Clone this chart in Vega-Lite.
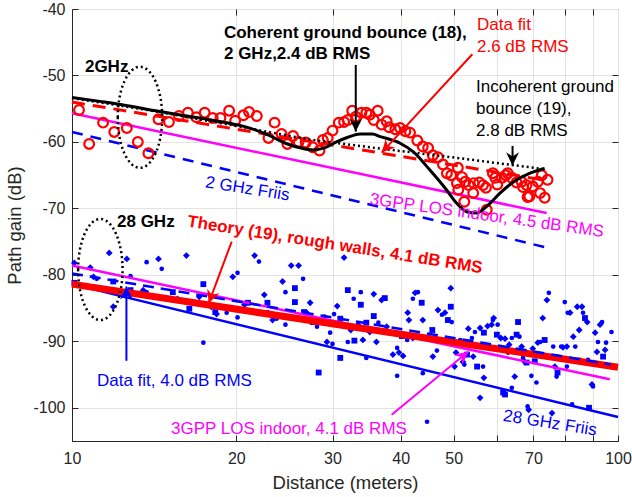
{
  "$schema": "https://vega.github.io/schema/vega-lite/v6.json",
  "autosize": {"type": "none"},
  "padding": {"left": 72, "top": 9, "right": 14, "bottom": 56},
  "width": 546,
  "height": 432,
  "background": "white",
  "config": {
    "view": {"stroke": "#262626", "strokeWidth": 1},
    "axis": {"labelFont": "Liberation Sans", "titleFont": "Liberation Sans", "labelFontSize": 16, "titleFontSize": 18.5, "titleFontWeight": "normal", "labelColor": "#262626", "titleColor": "#262626", "domainColor": "#262626", "tickColor": "#262626", "gridColor": "#e3e3e3", "tickSize": -6},
    "text": {"font": "Liberation Sans", "fontSize": 17}
  },
  "resolve": {"axis": {"x": "independent", "y": "independent"}},
  "datasets": {
    "curves": [
      {"c": "friis28", "d": 10, "g": -81.4}, {"c": "friis28", "d": 100, "g": -101.4},
      {"c": "gpp28", "d": 10, "g": -78.6}, {"c": "gpp28", "d": 96.6, "g": -95.7},
      {"c": "theory28", "d": 10, "g": -81.4}, {"c": "theory28", "d": 100, "g": -93.9},
      {"c": "fit28", "d": 10, "g": -79.8}, {"c": "fit28", "d": 97, "g": -93.5},
      {"c": "friis2", "d": 10, "g": -58.5}, {"c": "friis2", "d": 74, "g": -75.9},
      {"c": "gpp2", "d": 10, "g": -55.7}, {"c": "gpp2", "d": 74, "g": -70.7},
      {"c": "fit2", "d": 10, "g": -54.0}, {"c": "fit2", "d": 74, "g": -65.8},
      {"c": "incoh", "d": 10, "g": -53.4}, {"c": "incoh", "d": 14, "g": -55.3}, {"c": "incoh", "d": 20, "g": -57.6}, {"c": "incoh", "d": 27, "g": -59.6}, {"c": "incoh", "d": 36.7, "g": -61.0}, {"c": "incoh", "d": 48.5, "g": -62.2}, {"c": "incoh", "d": 64.4, "g": -63.5}, {"c": "incoh", "d": 73.4, "g": -64.1},
      {"c": "coh", "d": 10, "g": -53.3}, {"c": "coh", "d": 11.25, "g": -53.9}, {"c": "coh", "d": 12.35, "g": -54.4}, {"c": "coh", "d": 14.4, "g": -55.4}, {"c": "coh", "d": 15.9, "g": -56.0}, {"c": "coh", "d": 18.0, "g": -56.7}, {"c": "coh", "d": 20.0, "g": -57.4}, {"c": "coh", "d": 21.3, "g": -58.0}, {"c": "coh", "d": 22.8, "g": -58.9}, {"c": "coh", "d": 24.6, "g": -60.2}, {"c": "coh", "d": 26.5, "g": -61.0}, {"c": "coh", "d": 27.6, "g": -61.2}, {"c": "coh", "d": 29.0, "g": -60.9}, {"c": "coh", "d": 30.5, "g": -60.0}, {"c": "coh", "d": 32.0, "g": -59.3}, {"c": "coh", "d": 33.7, "g": -58.8}, {"c": "coh", "d": 35.5, "g": -58.8}, {"c": "coh", "d": 36.7, "g": -59.2}, {"c": "coh", "d": 39.9, "g": -60.2}, {"c": "coh", "d": 42.2, "g": -61.5}, {"c": "coh", "d": 45.2, "g": -64.2}, {"c": "coh", "d": 48.5, "g": -67.2}, {"c": "coh", "d": 50.6, "g": -69.2}, {"c": "coh", "d": 52.8, "g": -70.5}, {"c": "coh", "d": 55.1, "g": -70.7}, {"c": "coh", "d": 57.5, "g": -69.7}, {"c": "coh", "d": 60.8, "g": -67.7}, {"c": "coh", "d": 64.4, "g": -66.0}, {"c": "coh", "d": 69.0, "g": -64.7}, {"c": "coh", "d": 73.4, "g": -64.0}
    ],
    "m2": [
      {"d": 10.3, "g": -55.2}, {"d": 10.75, "g": -60.3}, {"d": 11.4, "g": -57.1}, {"d": 11.95, "g": -58.5}, {"d": 12.6, "g": -57.9}, {"d": 13.2, "g": -60.0}, {"d": 13.8, "g": -61.7}, {"d": 14.4, "g": -56.6}, {"d": 15.05, "g": -57.0}, {"d": 15.7, "g": -56.1}, {"d": 16.3, "g": -55.6}, {"d": 16.9, "g": -56.3}, {"d": 17.5, "g": -55.6}, {"d": 18.1, "g": -56.4}, {"d": 18.7, "g": -56.4}, {"d": 19.4, "g": -55.3}, {"d": 19.9, "g": -56.8}, {"d": 20.6, "g": -56.0}, {"d": 21.1, "g": -55.5}, {"d": 21.8, "g": -56.1}, {"d": 22.9, "g": -59.4}, {"d": 23.5, "g": -57.1}, {"d": 24.2, "g": -58.8}, {"d": 24.8, "g": -60.3}, {"d": 25.4, "g": -59.1}, {"d": 26.0, "g": -60.0}, {"d": 26.8, "g": -60.1}, {"d": 27.6, "g": -60.8}, {"d": 28.4, "g": -61.3}, {"d": 28.8, "g": -59.7}, {"d": 29.4, "g": -59.4}, {"d": 30.0, "g": -58.3}, {"d": 30.8, "g": -57.1}, {"d": 31.5, "g": -57.0}, {"d": 32.0, "g": -56.7}, {"d": 32.6, "g": -55.3}, {"d": 33.1, "g": -56.2}, {"d": 33.9, "g": -55.6}, {"d": 34.6, "g": -55.6}, {"d": 35.1, "g": -55.9}, {"d": 35.7, "g": -56.7}, {"d": 36.3, "g": -55.3}, {"d": 36.9, "g": -57.4}, {"d": 37.7, "g": -56.9}, {"d": 38.1, "g": -57.8}, {"d": 39.1, "g": -58.1}, {"d": 39.9, "g": -57.9}, {"d": 40.8, "g": -58.4}, {"d": 41.6, "g": -58.6}, {"d": 42.9, "g": -59.8}, {"d": 43.9, "g": -60.7}, {"d": 44.9, "g": -60.9}, {"d": 45.8, "g": -62.0}, {"d": 46.8, "g": -62.3}, {"d": 47.8, "g": -63.4}, {"d": 48.6, "g": -64.7}, {"d": 49.5, "g": -65.0}, {"d": 50.7, "g": -66.2}, {"d": 50.9, "g": -63.9}, {"d": 51.0, "g": -67.2}, {"d": 51.8, "g": -65.3}, {"d": 52.5, "g": -66.0}, {"d": 52.3, "g": -69.0}, {"d": 53.3, "g": -66.5}, {"d": 54.3, "g": -67.7}, {"d": 54.4, "g": -66.2}, {"d": 55.7, "g": -66.1}, {"d": 56.6, "g": -66.5}, {"d": 57.3, "g": -66.9}, {"d": 57.5, "g": -70.2}, {"d": 59.0, "g": -64.7}, {"d": 59.6, "g": -65.4}, {"d": 60.1, "g": -66.4}, {"d": 61.3, "g": -65.4}, {"d": 62.3, "g": -65.0}, {"d": 62.8, "g": -64.7}, {"d": 63.9, "g": -65.4}, {"d": 65.2, "g": -66.1}, {"d": 66.6, "g": -66.0}, {"d": 67.0, "g": -66.8}, {"d": 68.0, "g": -66.5}, {"d": 68.3, "g": -68.3}, {"d": 68.8, "g": -68.2}, {"d": 69.8, "g": -66.7}, {"d": 71.3, "g": -66.0}, {"d": 72.0, "g": -67.7}, {"d": 72.5, "g": -65.0}, {"d": 73.4, "g": -68.4}, {"d": 74.3, "g": -65.7}
    ],
    "m28": [
      {"d": 10.1, "g": -78.2, "m": "d"}, {"d": 10.1, "g": -81.2, "m": "s"}, {"d": 10.8, "g": -78.9, "m": "d"}, {"d": 10.95, "g": -80.3, "m": "d"}, {"d": 11.1, "g": -80.6, "m": "o"}, {"d": 11.7, "g": -76.7, "m": "d"}, {"d": 11.9, "g": -81.0, "m": "s"}, {"d": 11.9, "g": -84.8, "m": "d"}, {"d": 12.6, "g": -77.6, "m": "d"}, {"d": 12.8, "g": -80.2, "m": "o"}, {"d": 12.8, "g": -82.3, "m": "s"}, {"d": 13.5, "g": -82.3, "m": "d"}, {"d": 13.7, "g": -82.6, "m": "o"}, {"d": 13.7, "g": -78.1, "m": "o"}, {"d": 14.4, "g": -77.6, "m": "d"}, {"d": 14.6, "g": -79.1, "m": "o"}, {"d": 15.3, "g": -82.6, "m": "s"}, {"d": 15.6, "g": -83.6, "m": "d"}, {"d": 16.2, "g": -77.1, "m": "d"}, {"d": 16.4, "g": -85.1, "m": "s"}, {"d": 17.1, "g": -83.3, "m": "d"}, {"d": 17.4, "g": -81.4, "m": "s"}, {"d": 17.4, "g": -90.2, "m": "o"}, {"d": 18.0, "g": -84.8, "m": "d"}, {"d": 18.3, "g": -85.6, "m": "s"}, {"d": 18.4, "g": -85.9, "m": "d"}, {"d": 19.2, "g": -85.7, "m": "o"}, {"d": 19.7, "g": -80.3, "m": "d"}, {"d": 20.1, "g": -79.7, "m": "o"}, {"d": 20.1, "g": -86.4, "m": "o"}, {"d": 20.7, "g": -84.5, "m": "d"}, {"d": 21.0, "g": -84.2, "m": "s"}, {"d": 21.6, "g": -77.1, "m": "d"}, {"d": 22.0, "g": -78.0, "m": "o"}, {"d": 22.5, "g": -83.0, "m": "d"}, {"d": 22.8, "g": -84.2, "m": "s"}, {"d": 22.8, "g": -85.6, "m": "o"}, {"d": 23.3, "g": -86.8, "m": "d"}, {"d": 23.7, "g": -86.6, "m": "o"}, {"d": 24.3, "g": -81.0, "m": "d"}, {"d": 24.6, "g": -82.6, "m": "o"}, {"d": 24.6, "g": -87.5, "m": "o"}, {"d": 25.2, "g": -78.6, "m": "d"}, {"d": 25.6, "g": -82.0, "m": "s"}, {"d": 25.6, "g": -84.1, "m": "s"}, {"d": 26.0, "g": -78.6, "m": "d"}, {"d": 26.5, "g": -80.6, "m": "o"}, {"d": 26.6, "g": -85.6, "m": "s"}, {"d": 26.9, "g": -85.7, "m": "d"}, {"d": 27.3, "g": -84.2, "m": "d"}, {"d": 27.6, "g": -87.1, "m": "s"}, {"d": 28.1, "g": -87.8, "m": "o"}, {"d": 28.3, "g": -94.7, "m": "s"}, {"d": 29.0, "g": -86.3, "m": "o"}, {"d": 29.7, "g": -88.7, "m": "o"}, {"d": 29.3, "g": -90.1, "m": "d"}, {"d": 30.2, "g": -85.9, "m": "o"}, {"d": 30.6, "g": -84.7, "m": "d"}, {"d": 31.0, "g": -86.6, "m": "s"}, {"d": 30.0, "g": -90.4, "m": "o"}, {"d": 31.0, "g": -92.5, "m": "s"}, {"d": 31.5, "g": -77.4, "m": "d"}, {"d": 32.0, "g": -82.3, "m": "s"}, {"d": 32.0, "g": -90.1, "m": "o"}, {"d": 32.4, "g": -88.3, "m": "d"}, {"d": 32.8, "g": -83.6, "m": "o"}, {"d": 32.9, "g": -89.9, "m": "s"}, {"d": 33.4, "g": -87.5, "m": "d"}, {"d": 33.8, "g": -82.6, "m": "o"}, {"d": 33.8, "g": -84.5, "m": "s"}, {"d": 34.1, "g": -89.8, "m": "d"}, {"d": 34.6, "g": -87.2, "m": "s"}, {"d": 34.6, "g": -92.5, "m": "o"}, {"d": 35.1, "g": -88.6, "m": "d"}, {"d": 35.7, "g": -82.9, "m": "d"}, {"d": 35.7, "g": -86.2, "m": "s"}, {"d": 36.1, "g": -90.1, "m": "d"}, {"d": 36.4, "g": -87.2, "m": "o"}, {"d": 36.9, "g": -83.8, "m": "d"}, {"d": 37.4, "g": -83.5, "m": "s"}, {"d": 37.7, "g": -87.8, "m": "d"}, {"d": 38.7, "g": -92.0, "m": "d"}, {"d": 39.4, "g": -91.0, "m": "o"}, {"d": 39.4, "g": -95.2, "m": "o"}, {"d": 39.7, "g": -91.7, "m": "d"}, {"d": 40.2, "g": -89.2, "m": "s"}, {"d": 40.4, "g": -92.2, "m": "d"}, {"d": 41.1, "g": -89.8, "m": "o"}, {"d": 41.2, "g": -85.7, "m": "d"}, {"d": 41.4, "g": -86.8, "m": "d"}, {"d": 42.1, "g": -83.6, "m": "o"}, {"d": 42.1, "g": -89.5, "m": "d"}, {"d": 42.5, "g": -82.7, "m": "d"}, {"d": 43.0, "g": -82.6, "m": "o"}, {"d": 43.7, "g": -84.2, "m": "s"}, {"d": 43.9, "g": -86.8, "m": "d"}, {"d": 43.9, "g": -94.8, "m": "o"}, {"d": 44.7, "g": -102.1, "m": "o"}, {"d": 45.7, "g": -88.3, "m": "s"}, {"d": 45.8, "g": -92.3, "m": "d"}, {"d": 46.6, "g": -91.4, "m": "o"}, {"d": 46.8, "g": -85.3, "m": "d"}, {"d": 47.6, "g": -86.0, "m": "o"}, {"d": 48.2, "g": -85.7, "m": "d"}, {"d": 48.8, "g": -86.8, "m": "s"}, {"d": 49.4, "g": -82.0, "m": "d"}, {"d": 49.4, "g": -84.8, "m": "s"}, {"d": 49.6, "g": -87.1, "m": "o"}, {"d": 50.2, "g": -93.8, "m": "d"}, {"d": 50.5, "g": -91.7, "m": "d"}, {"d": 51.4, "g": -89.8, "m": "o"}, {"d": 52.0, "g": -93.1, "m": "d"}, {"d": 52.3, "g": -93.5, "m": "o"}, {"d": 52.9, "g": -92.0, "m": "s"}, {"d": 53.2, "g": -88.1, "m": "d"}, {"d": 54.0, "g": -89.5, "m": "o"}, {"d": 54.3, "g": -92.3, "m": "d"}, {"d": 54.7, "g": -88.6, "m": "o"}, {"d": 55.2, "g": -93.8, "m": "s"}, {"d": 55.9, "g": -88.0, "m": "d"}, {"d": 55.9, "g": -98.5, "m": "d"}, {"d": 56.6, "g": -93.8, "m": "o"}, {"d": 56.8, "g": -95.5, "m": "d"}, {"d": 56.8, "g": -88.7, "m": "s"}, {"d": 57.7, "g": -87.7, "m": "d"}, {"d": 58.7, "g": -87.5, "m": "d"}, {"d": 59.0, "g": -86.8, "m": "o"}, {"d": 59.2, "g": -86.5, "m": "d"}, {"d": 60.0, "g": -89.0, "m": "s"}, {"d": 60.2, "g": -87.5, "m": "o"}, {"d": 61.0, "g": -89.5, "m": "d"}, {"d": 61.6, "g": -97.7, "m": "s"}, {"d": 62.1, "g": -89.6, "m": "d"}, {"d": 62.1, "g": -98.0, "m": "s"}, {"d": 62.9, "g": -91.7, "m": "o"}, {"d": 63.2, "g": -90.5, "m": "d"}, {"d": 63.9, "g": -89.5, "m": "o"}, {"d": 63.9, "g": -97.0, "m": "o"}, {"d": 64.7, "g": -95.3, "m": "d"}, {"d": 65.2, "g": -89.0, "m": "s"}, {"d": 65.6, "g": -87.1, "m": "s"}, {"d": 66.0, "g": -89.3, "m": "o"}, {"d": 66.6, "g": -90.8, "m": "d"}, {"d": 67.0, "g": -92.5, "m": "o"}, {"d": 67.5, "g": -93.1, "m": "d"}, {"d": 68.0, "g": -93.2, "m": "s"}, {"d": 68.3, "g": -99.8, "m": "o"}, {"d": 68.6, "g": -100.3, "m": "d"}, {"d": 69.4, "g": -95.2, "m": "o"}, {"d": 69.8, "g": -91.1, "m": "d"}, {"d": 70.4, "g": -93.0, "m": "s"}, {"d": 70.9, "g": -96.2, "m": "o"}, {"d": 71.3, "g": -90.2, "m": "d"}, {"d": 72.0, "g": -90.1, "m": "o"}, {"d": 72.8, "g": -86.5, "m": "d"}, {"d": 73.4, "g": -89.8, "m": "s"}, {"d": 74.1, "g": -83.8, "m": "d"}, {"d": 74.7, "g": -82.7, "m": "o"}, {"d": 75.7, "g": -100.8, "m": "d"}, {"d": 76.1, "g": -90.8, "m": "o"}, {"d": 76.6, "g": -93.8, "m": "d"}, {"d": 77.2, "g": -95.3, "m": "o"}, {"d": 77.5, "g": -94.7, "m": "s"}, {"d": 78.7, "g": -90.8, "m": "o"}, {"d": 79.3, "g": -90.9, "m": "d"}, {"d": 79.9, "g": -84.1, "m": "o"}, {"d": 80.6, "g": -90.8, "m": "d"}, {"d": 80.6, "g": -93.8, "m": "o"}, {"d": 80.9, "g": -85.7, "m": "o"}, {"d": 81.7, "g": -85.7, "m": "d"}, {"d": 82.4, "g": -99.5, "m": "o"}, {"d": 82.8, "g": -89.3, "m": "d"}, {"d": 83.5, "g": -90.8, "m": "o"}, {"d": 84.2, "g": -84.8, "m": "d"}, {"d": 84.9, "g": -88.3, "m": "d"}, {"d": 85.2, "g": -92.8, "m": "o"}, {"d": 85.9, "g": -84.8, "m": "d"}, {"d": 86.3, "g": -85.7, "m": "o"}, {"d": 87.0, "g": -86.5, "m": "s"}, {"d": 87.8, "g": -87.1, "m": "d"}, {"d": 88.1, "g": -92.8, "m": "o"}, {"d": 88.5, "g": -100.0, "m": "s"}, {"d": 89.6, "g": -96.5, "m": "d"}, {"d": 90.0, "g": -96.8, "m": "o"}, {"d": 90.8, "g": -88.7, "m": "d"}, {"d": 91.5, "g": -91.6, "m": "d"}, {"d": 91.9, "g": -90.1, "m": "o"}, {"d": 92.7, "g": -87.5, "m": "d"}, {"d": 93.5, "g": -87.1, "m": "o"}, {"d": 93.9, "g": -92.3, "m": "s"}, {"d": 94.7, "g": -91.3, "m": "d"}, {"d": 95.1, "g": -90.2, "m": "o"}, {"d": 97.3, "g": -88.6, "m": "o"}
    ],
    "ellipses": [{"d": 13.32, "g": -56.3}, {"d": 11.27, "g": -79.2}],
    "arrows": [
      {"id": "a", "d": 33.09, "g": -48.42, "d2": 33.09, "g2": -58.45},
      {"id": "b", "d": 54.1, "g": -46.81, "d2": 36.92, "g2": -61.61},
      {"id": "c", "d": 64.1, "g": -60.6, "d2": 64.1, "g2": -63.53},
      {"id": "d", "d": 19.61, "g": -74.99, "d2": 17.8, "g2": -84.26},
      {"id": "e", "d": 12.58, "g": -92.93, "d2": 12.58, "g2": -81.76},
      {"id": "f", "d": 38.5, "g": -101.05, "d2": 53.2, "g2": -91.53}
    ],
    "labels": [
      {"k": "bk", "t": "2GHz", "d": 10.56, "g": -48.72},
      {"k": "bk", "t": "28 GHz", "d": 12.09, "g": -72.03},
      {"k": "bk", "t": "Coherent ground bounce (18),", "d": 18.98, "g": -43.61},
      {"k": "bk", "t": "2 GHz,2.4 dB RMS", "d": 18.98, "g": -46.77},
      {"k": "r", "t": "Data fit", "d": 55.18, "g": -42.48},
      {"k": "r", "t": "2.6 dB RMS", "d": 55.18, "g": -45.79},
      {"k": "k", "t": "Incoherent ground", "d": 54.95, "g": -51.8},
      {"k": "k", "t": "bounce (19),", "d": 54.95, "g": -55.04},
      {"k": "k", "t": "2.8 dB RMS", "d": 54.95, "g": -58.35},
      {"k": "b", "t": "Data fit, 4.0 dB RMS", "d": 11.11, "g": -95.94},
      {"k": "m", "t": "3GPP LOS indoor, 4.1 dB RMS", "d": 15.18, "g": -103.16},
      {"k": "bf", "t": "2 GHz Friis", "d": 20.96, "g": -67.07},
      {"k": "bf", "t": "28 GHz Friis", "d": 75.06, "g": -102.33},
      {"k": "mr", "t": "3GPP LOS indoor, 4.5 dB RMS", "d": 57.5, "g": -71.1},
      {"k": "rr", "t": "Theory (19), rough walls, 4.1 dB RMS", "d": 30.31, "g": -75.49}
    ]
  },
  "encoding": {
    "x": {"field": "d", "type": "quantitative", "scale": {"type": "log", "domain": [10, 100], "nice": false}, "axis": null},
    "y": {"field": "g", "type": "quantitative", "scale": {"domain": [-105, -40], "nice": false}, "axis": null}
  },
  "layer": [
    {"data": {"name": "m28"}, "mark": {"type": "point", "filled": true, "color": "#0000ff", "opacity": 1, "strokeWidth": 0},
     "encoding": {
       "x": {"field": "d", "type": "quantitative", "axis": {"title": "Distance (meters)", "values": [10, 20, 30, 40, 50, 60, 70, 80, 90, 100], "labelExpr": "indexof([60,80,90], datum.value) >= 0 ? '' : '' + datum.value", "grid": true, "labelFlush": false, "labelPadding": 15, "titlePadding": 7}},
       "y": {"field": "g", "type": "quantitative", "axis": {"title": "Path gain (dB)", "values": [-100, -90, -80, -70, -60, -50, -40], "labelExpr": "'' + datum.value", "grid": true, "labelPadding": 13, "titlePadding": 8}},
       "shape": {"field": "m", "type": "nominal", "scale": {"domain": ["d", "s", "o"], "range": ["diamond", "square", "circle"]}, "legend": null},
       "size": {"field": "m", "type": "ordinal", "scale": {"domain": ["d", "s", "o"], "range": [46, 22, 30]}, "legend": null}}},
    {"data": {"name": "curves"}, "transform": [{"filter": "datum.c === 'friis28'"}], "mark": {"type": "line", "color": "#0000ff", "strokeWidth": 2.5}, "encoding": {}},
    {"data": {"name": "curves"}, "transform": [{"filter": "datum.c === 'gpp28'"}], "mark": {"type": "line", "color": "#ff00ff", "strokeWidth": 2.5}, "encoding": {}},
    {"data": {"name": "curves"}, "transform": [{"filter": "datum.c === 'theory28'"}], "mark": {"type": "line", "color": "#ff0000", "strokeWidth": 7}, "encoding": {}},
    {"data": {"name": "curves"}, "transform": [{"filter": "datum.c === 'fit28'"}], "mark": {"type": "line", "color": "#0000ff", "strokeWidth": 2.5, "strokeDash": [11, 7]}, "encoding": {}},
    {"data": {"name": "curves"}, "transform": [{"filter": "datum.c === 'friis2'"}], "mark": {"type": "line", "color": "#0000ff", "strokeWidth": 2.5, "strokeDash": [11, 8]}, "encoding": {}},
    {"data": {"name": "curves"}, "transform": [{"filter": "datum.c === 'gpp2'"}], "mark": {"type": "line", "color": "#ff00ff", "strokeWidth": 2.5}, "encoding": {}},
    {"data": {"name": "curves"}, "transform": [{"filter": "datum.c === 'fit2'"}], "mark": {"type": "line", "color": "#ff0000", "strokeWidth": 3, "strokeDash": [13, 8]}, "encoding": {}},
    {"data": {"name": "m2"}, "mark": {"type": "point", "shape": "circle", "filled": false, "color": "#ff0000", "strokeWidth": 2.2, "size": 95, "opacity": 1}},
    {"data": {"name": "curves"}, "transform": [{"filter": "datum.c === 'incoh'"}], "mark": {"type": "line", "color": "#000000", "strokeWidth": 2.5, "strokeDash": [2, 3]}, "encoding": {}},
    {"data": {"name": "curves"}, "transform": [{"filter": "datum.c === 'coh'"}], "mark": {"type": "line", "color": "#000000", "strokeWidth": 3, "interpolate": "monotone"}, "encoding": {}},
    {"data": {"name": "ellipses"}, "mark": {"type": "point", "shape": "M-0.44,0A0.44,1,0,1,1,0.44,0A0.44,1,0,1,1,-0.44,0Z", "size": 10200, "filled": false, "color": "#000000", "strokeWidth": 2.5, "strokeDash": [2, 3], "opacity": 1},
     "encoding": {
       "x": {"field": "d", "type": "quantitative", "axis": {"orient": "top", "title": null, "labels": false, "grid": false, "domain": false, "values": [20, 30, 40, 50, 60, 70, 80, 90]}},
       "y": {"field": "g", "type": "quantitative", "axis": {"orient": "right", "title": null, "labels": false, "grid": false, "domain": false, "values": [-100, -90, -80, -70, -60, -50]}}}},
    {"data": {"name": "arrows"}, "mark": {"type": "rule", "strokeWidth": 2},
     "encoding": {"x2": {"field": "d2"}, "y2": {"field": "g2"},
                  "color": {"field": "id", "type": "nominal", "scale": {"domain": ["a", "b", "c", "d", "e", "f"], "range": ["#000000", "#ff0000", "#000000", "#ff0000", "#0000ff", "#ff00ff"]}, "legend": null}}},
    {"data": {"name": "arrows"}, "transform": [{"filter": "datum.id === 'a' || datum.id === 'c'"}], "mark": {"type": "point", "shape": "M0,0L0.55,1.1L0,0.75L-0.55,1.1Z", "size": 560, "filled": true, "color": "#000000", "angle": 180, "opacity": 1},
     "encoding": {"x": {"field": "d2", "type": "quantitative", "axis": null}, "y": {"field": "g2", "type": "quantitative", "axis": null}}},
    {"data": {"name": "arrows"}, "transform": [{"filter": "datum.id === 'b'"}], "mark": {"type": "point", "shape": "M0,0L0.55,1.1L0,0.75L-0.55,1.1Z", "size": 560, "filled": true, "color": "#ff0000", "angle": 222.6, "opacity": 1},
     "encoding": {"x": {"field": "d2", "type": "quantitative", "axis": null}, "y": {"field": "g2", "type": "quantitative", "axis": null}}},
    {"data": {"name": "arrows"}, "transform": [{"filter": "datum.id === 'd'"}], "mark": {"type": "point", "shape": "M0,0L0.55,1.1L0,0.75L-0.55,1.1Z", "size": 560, "filled": true, "color": "#ff0000", "angle": 200.5, "opacity": 1},
     "encoding": {"x": {"field": "d2", "type": "quantitative", "axis": null}, "y": {"field": "g2", "type": "quantitative", "axis": null}}},
    {"data": {"name": "arrows"}, "transform": [{"filter": "datum.id === 'e'"}], "mark": {"type": "point", "shape": "M0,0L0.55,1.1L0,0.75L-0.55,1.1Z", "size": 560, "filled": true, "color": "#0000ff", "angle": 0, "opacity": 1},
     "encoding": {"x": {"field": "d2", "type": "quantitative", "axis": null}, "y": {"field": "g2", "type": "quantitative", "axis": null}}},
    {"data": {"name": "arrows"}, "transform": [{"filter": "datum.id === 'f'"}], "mark": {"type": "point", "shape": "M0,0L0.55,1.1L0,0.75L-0.55,1.1Z", "size": 560, "filled": true, "color": "#ff00ff", "angle": 50.4, "opacity": 1},
     "encoding": {"x": {"field": "d2", "type": "quantitative", "axis": null}, "y": {"field": "g2", "type": "quantitative", "axis": null}}},
    {"data": {"name": "labels"}, "transform": [{"filter": "datum.k === 'bk'"}], "mark": {"type": "text", "align": "left", "baseline": "middle", "fontWeight": "bold", "color": "#000000"}, "encoding": {"text": {"field": "t"}}},
    {"data": {"name": "labels"}, "transform": [{"filter": "datum.k === 'r'"}], "mark": {"type": "text", "align": "left", "baseline": "middle", "color": "#ff0000"}, "encoding": {"text": {"field": "t"}}},
    {"data": {"name": "labels"}, "transform": [{"filter": "datum.k === 'k'"}], "mark": {"type": "text", "align": "left", "baseline": "middle", "color": "#000000"}, "encoding": {"text": {"field": "t"}}},
    {"data": {"name": "labels"}, "transform": [{"filter": "datum.k === 'b'"}], "mark": {"type": "text", "align": "left", "baseline": "middle", "color": "#0000ff"}, "encoding": {"text": {"field": "t"}}},
    {"data": {"name": "labels"}, "transform": [{"filter": "datum.k === 'm'"}], "mark": {"type": "text", "align": "left", "baseline": "middle", "color": "#ff00ff"}, "encoding": {"text": {"field": "t"}}},
    {"data": {"name": "labels"}, "transform": [{"filter": "datum.k === 'bf'"}], "mark": {"type": "text", "align": "center", "baseline": "middle", "color": "#0000ff", "angle": 9}, "encoding": {"text": {"field": "t"}}},
    {"data": {"name": "labels"}, "transform": [{"filter": "datum.k === 'mr'"}], "mark": {"type": "text", "align": "center", "baseline": "middle", "color": "#ff00ff", "angle": 8}, "encoding": {"text": {"field": "t"}}},
    {"data": {"name": "labels"}, "transform": [{"filter": "datum.k === 'rr'"}], "mark": {"type": "text", "align": "center", "baseline": "middle", "color": "#ff0000", "angle": 9, "fontWeight": "bold"}, "encoding": {"text": {"field": "t"}}}
  ]
}
